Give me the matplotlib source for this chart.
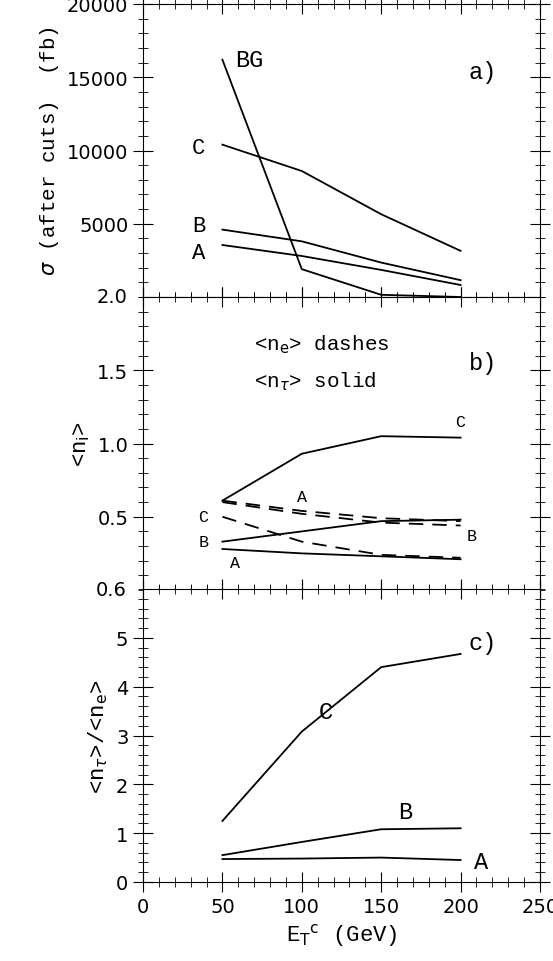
import matplotlib
matplotlib.use("Agg")
import matplotlib.pyplot as plt
from matplotlib.ticker import MultipleLocator

et = [50, 100, 150, 200]

# panel a: cross section after cuts (fb)
sig_bg = [16200, 1900, 150, 0]
sig_c = [10400, 8600, 5650, 3150]
sig_b = [4600, 3800, 2350, 1150]
sig_a = [3550, 2800, 1850, 820]

# panel b: <n_i>
ntau_c = [0.61, 0.93, 1.05, 1.04]
ntau_b = [0.33, 0.40, 0.47, 0.48]
ntau_a = [0.28, 0.25, 0.23, 0.21]
ne_a = [0.61, 0.54, 0.49, 0.47]
ne_b = [0.60, 0.52, 0.46, 0.44]
ne_c = [0.50, 0.33, 0.24, 0.22]

# panel c: ratio
rat_c = [1.25, 3.08, 4.40, 4.67]
rat_b = [0.55, 0.82, 1.08, 1.10]
rat_a = [0.47, 0.48, 0.50, 0.45]

mono = "Liberation Mono"
fig = plt.figure(figsize=(5.53, 9.62), dpi=100)
W, H = 553, 962
L, R = 143 / W, 540 / W
tops = [5, 298, 590]
h = 293
axes = [fig.add_axes([L, 1 - (t + h) / H, R - L, h / H]) for t in tops]

for ax in axes:
    ax.set_xlim(0, 250)
    ax.xaxis.set_major_locator(MultipleLocator(50))
    ax.xaxis.set_minor_locator(MultipleLocator(10))
    ax.tick_params(which="both", direction="inout", top=True, right=True, labelsize=14)
    ax.tick_params(which="major", length=14)
    ax.tick_params(which="minor", length=7)

kw = dict(color="black", lw=1.3)
a, b, c = axes

a.plot(et, sig_bg, **kw)
a.plot(et, sig_c, **kw)
a.plot(et, sig_b, **kw)
a.plot(et, sig_a, **kw)
a.set_ylim(0, 20000)
a.set_yticks([5000, 10000, 15000, 20000])
a.yaxis.set_minor_locator(MultipleLocator(1000))
a.set_xticklabels([])
a.text(-0.04, 0.0, "2.0", transform=a.transAxes, fontsize=14, va="center", ha="right")
a.set_ylabel(r"$\sigma$ (after cuts)  (fb)", fontsize=15, family=mono)
a.text(58, 16200, "BG", fontsize=17, family=mono, va="center")
a.text(205, 15400, "a)", fontsize=17, family=mono, va="center")
for x, y, s in [(35, 10200, "C"), (35, 4900, "B"), (35, 3050, "A")]:
    a.text(x, y, s, fontsize=16, family=mono, ha="center", va="center")

b.plot(et, ntau_c, **kw)
b.plot(et, ntau_b, **kw)
b.plot(et, ntau_a, **kw)
for d in (ne_a, ne_b, ne_c):
    b.plot(et, d, color="black", lw=1.3, dashes=(8, 5))
b.set_ylim(0, 2)
b.set_yticks([0.5, 1.0, 1.5])
b.set_yticklabels(["0.5", "1.0", "1.5"])
b.yaxis.set_minor_locator(MultipleLocator(0.1))
b.set_xticklabels([])
b.text(-0.04, 0.0, "0.6", transform=b.transAxes, fontsize=14, va="center", ha="right")
b.set_ylabel(r"<n$_{\rm i}$>", fontsize=16, family=mono)
b.text(70, 1.68, r"<n$_{\rm e}$> dashes", fontsize=15, family=mono, va="center")
b.text(70, 1.43, r"<n$_\tau$> solid", fontsize=15, family=mono, va="center")
b.text(205, 1.55, "b)", fontsize=17, family=mono, va="center")
for x, y, s in [(200, 1.15, "C"), (100, 0.64, "A"), (38, 0.50, "C"), (38, 0.33, "B"), (207, 0.37, "B"), (58, 0.19, "A")]:
    b.text(x, y, s, fontsize=12, family=mono, ha="center", va="center")

c.plot(et, rat_c, **kw)
c.plot(et, rat_b, **kw)
c.plot(et, rat_a, **kw)
c.set_ylim(0, 6)
c.set_yticks([0, 1, 2, 3, 4, 5])
c.yaxis.set_minor_locator(MultipleLocator(0.2))
c.set_ylabel(r"<n$_\tau$>/<n$_{\rm e}$>", fontsize=16, family=mono)
c.set_xlabel(r"E$_{\rm T}$$^{\rm c}$ (GeV)", fontsize=16, family=mono)
c.text(205, 4.9, "c)", fontsize=17, family=mono, va="center")
for x, y, s in [(115, 3.5, "C"), (165, 1.45, "B"), (213, 0.42, "A")]:
    c.text(x, y, s, fontsize=17, family=mono, ha="center", va="center")

fig.savefig("out.png", dpi=100)
